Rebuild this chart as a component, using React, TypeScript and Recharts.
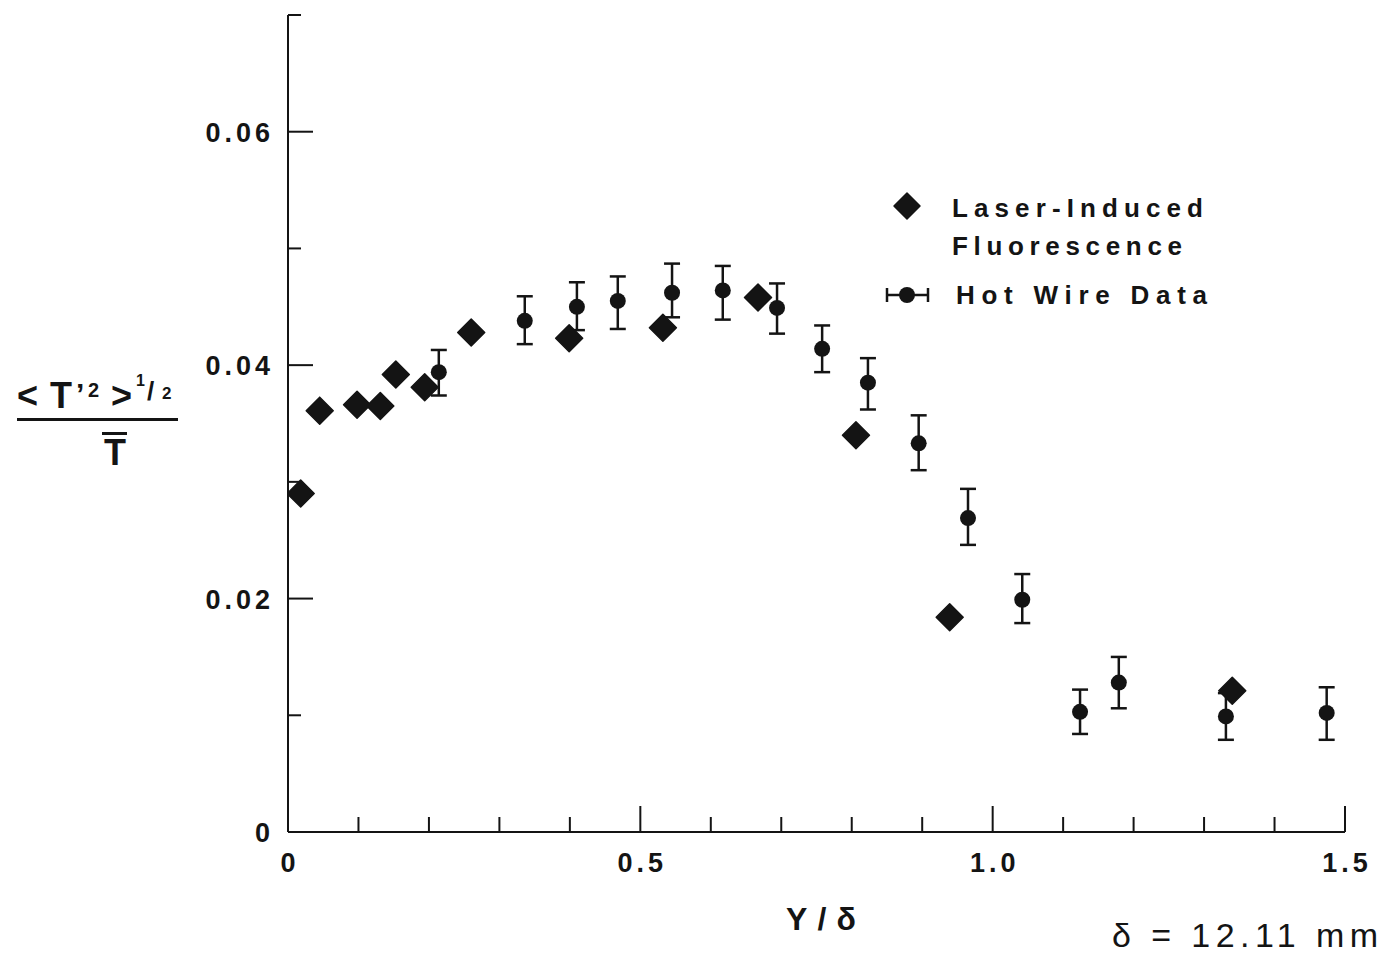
import React from 'react'
import { ScatterChart, Scatter, XAxis, YAxis, ErrorBar, Legend } from 'recharts'

// Laser-induced fluorescence (diamonds)
const lifX = [0.018, 0.045, 0.098, 0.131, 0.153, 0.194, 0.260, 0.399, 0.532, 0.667, 0.806, 0.939, 1.340]
const lifY = [0.0290, 0.0361, 0.0366, 0.0365, 0.0392, 0.0381, 0.0428, 0.0423, 0.0432, 0.0458, 0.0340, 0.0184, 0.0121]

// Hot wire data (circles with error bars)
const hwX = [0.214, 0.336, 0.410, 0.468, 0.545, 0.617, 0.694, 0.758, 0.823, 0.895, 0.965, 1.042, 1.124, 1.179, 1.331, 1.474]
const hwY = [0.0394, 0.0438, 0.0450, 0.0455, 0.0462, 0.0464, 0.0449, 0.0414, 0.0385, 0.0333, 0.0269, 0.0199, 0.0103, 0.0128, 0.0099, 0.0102]
const hwErrLow = [0.0020, 0.0020, 0.0020, 0.0024, 0.0021, 0.0025, 0.0022, 0.0020, 0.0023, 0.0023, 0.0023, 0.0020, 0.0019, 0.0022, 0.0020, 0.0023]
const hwErrHigh = [0.0019, 0.0021, 0.0021, 0.0021, 0.0025, 0.0021, 0.0021, 0.0020, 0.0021, 0.0024, 0.0025, 0.0022, 0.0019, 0.0022, 0.0020, 0.0022]

const xTicks = [0, 0.1, 0.2, 0.3, 0.4, 0.5, 0.6, 0.7, 0.8, 0.9, 1.0, 1.1, 1.2, 1.3, 1.4, 1.5]
const xTickLabels: [number, string][] = [[0, '0'], [0.5, '0.5'], [1.0, '1.0'], [1.5, '1.5']]
const yTicks = [0, 0.01, 0.02, 0.03, 0.04, 0.05, 0.06, 0.07]
const yTickLabels: [number, string][] = [[0, '0'], [0.02, '0.02'], [0.04, '0.04'], [0.06, '0.06']]

const INK = '#141414'
const FONT = '"Liberation Sans", Arial, Helvetica, sans-serif'

const lifData = lifX.map((x, i) => ({ x, y: lifY[i] }))
const hwData = hwX.map((x, i) => ({ x, y: hwY[i], err: [hwErrLow[i], hwErrHigh[i]] }))

const findLabel = (list: [number, string][], v: number) => {
  const hit = list.find(([t]) => Math.abs(t - v) < 1e-6)
  return hit ? hit[1] : null
}

const XTick = (props: any) => {
  const { x, y, payload } = props
  const label = findLabel(xTickLabels, payload.value)
  return (
    <g>
      <line x1={x} y1={y} x2={x} y2={y - (label ? 26 : 15)} stroke={INK} strokeWidth={2} />
      {label && (
        <text x={x + 2} y={y + 40} textAnchor="middle" fill={INK}
          style={{ fontFamily: FONT, fontWeight: 700, fontSize: 27, letterSpacing: 4 }}>
          {label}
        </text>
      )}
    </g>
  )
}

const YTick = (props: any) => {
  const { x, y, payload } = props
  const label = findLabel(yTickLabels, payload.value)
  return (
    <g>
      <line x1={x} y1={y} x2={x + (label ? 25 : 13)} y2={y} stroke={INK} strokeWidth={2} />
      {label && (
        <text x={x - 14} y={y + 10} textAnchor="end" fill={INK}
          style={{ fontFamily: FONT, fontWeight: 700, fontSize: 27, letterSpacing: 4 }}>
          {label}
        </text>
      )}
    </g>
  )
}

const Diamond = (props: any) => {
  const { cx, cy } = props
  const r = 13.5
  return (
    <path d={`M${cx},${cy - r} L${cx + r},${cy} L${cx},${cy + r} L${cx - r},${cy} Z`}
      fill={INK} stroke={INK} strokeWidth={1.5} strokeLinejoin="round" />
  )
}

const Dot = (props: any) => <circle cx={props.cx} cy={props.cy} r={8} fill={INK} />

const legendText = { fontFamily: FONT, fontWeight: 700, fontSize: 26 }

const renderLegend = () => (
  <svg width={350} height={135}>
    <path d="M27,13 L40,26 L27,39 L14,26 Z" fill={INK} stroke={INK} strokeWidth={1.5} strokeLinejoin="round" />
    <text x={72} y={37} fill={INK} textLength={251} lengthAdjust="spacing" style={legendText}>Laser-Induced</text>
    <text x={72} y={75} fill={INK} textLength={230} lengthAdjust="spacing" style={legendText}>Fluorescence</text>
    <line x1={7} y1={115} x2={48} y2={115} stroke={INK} strokeWidth={2.5} />
    <line x1={7} y1={108} x2={7} y2={122} stroke={INK} strokeWidth={2.5} />
    <line x1={48} y1={108} x2={48} y2={122} stroke={INK} strokeWidth={2.5} />
    <circle cx={27} cy={115} r={8} fill={INK} />
    <text x={76} y={124} fill={INK} textLength={251} lengthAdjust="spacing" style={legendText}>Hot Wire Data</text>
  </svg>
)

const bold = { fontFamily: FONT, fontWeight: 700 }

export default function App() {
  return (
    <div style={{ position: 'relative', width: 1386, height: 958, background: '#fff' }}>
      <style>{'body{margin:0;background:#fff}'}</style>
      <ScatterChart width={1386} height={958} margin={{ top: 15, right: 41, bottom: 66, left: 208 }}>
        <XAxis type="number" dataKey="x" domain={[0, 1.5]} ticks={xTicks} interval={0}
          height={60} tickSize={0} tickMargin={0} tick={<XTick />}
          axisLine={{ stroke: INK, strokeWidth: 2 }} allowDataOverflow />
        <YAxis type="number" dataKey="y" domain={[0, 0.07]} ticks={yTicks} interval={0}
          width={80} tickSize={0} tickMargin={0} tick={<YTick />}
          axisLine={{ stroke: INK, strokeWidth: 2 }} allowDataOverflow />
        <Legend layout="vertical" align="center" verticalAlign="middle" content={renderLegend}
          wrapperStyle={{ left: 880, top: 180, width: 350, height: 135 }} />
        <Scatter name="Hot Wire Data" data={hwData} shape={<Dot />} isAnimationActive={false}>
          <ErrorBar dataKey="err" direction="y" width={8} stroke={INK} strokeWidth={2.5} isAnimationActive={false} />
        </Scatter>
        <Scatter name="Laser-Induced Fluorescence" data={lifData} shape={<Diamond />} isAnimationActive={false} />
      </ScatterChart>

      <svg width={1386} height={958} style={{ position: 'absolute', left: 0, top: 0, pointerEvents: 'none' }}>
        {/* y-axis label: <T'2>^(1/2) over T-bar */}
        <text x={17} y={408} fill={INK} style={{ ...bold, fontSize: 36 }}>&lt;</text>
        <text x={50} y={408} fill={INK} style={{ ...bold, fontSize: 36 }}>T</text>
        <text x={76} y={404} fill={INK} style={{ ...bold, fontSize: 30 }}>’</text>
        <text x={88} y={397} fill={INK} style={{ ...bold, fontSize: 20 }}>2</text>
        <text x={111} y={408} fill={INK} style={{ ...bold, fontSize: 36 }}>&gt;</text>
        <text x={136} y={386} fill={INK} style={{ ...bold, fontSize: 16 }}>1</text>
        <text x={147} y={400} fill={INK} style={{ ...bold, fontSize: 26 }}>/</text>
        <text x={162} y={399} fill={INK} style={{ ...bold, fontSize: 17 }}>2</text>
        <rect x={17} y={418} width={161} height={3} fill={INK} />
        <rect x={102} y={432} width={25} height={3} fill={INK} />
        <text x={115} y={465} textAnchor="middle" fill={INK} style={{ ...bold, fontSize: 36 }}>T</text>

        <text x={786} y={930} fill={INK} textLength={70} lengthAdjust="spacing"
          style={{ ...bold, fontSize: 32 }}>Y/δ</text>
        <text x={1112} y={947} fill={INK} textLength={266} lengthAdjust="spacing"
          style={{ fontFamily: FONT, fontWeight: 400, fontSize: 34 }}>δ = 12.11 mm</text>
      </svg>
    </div>
  )
}
